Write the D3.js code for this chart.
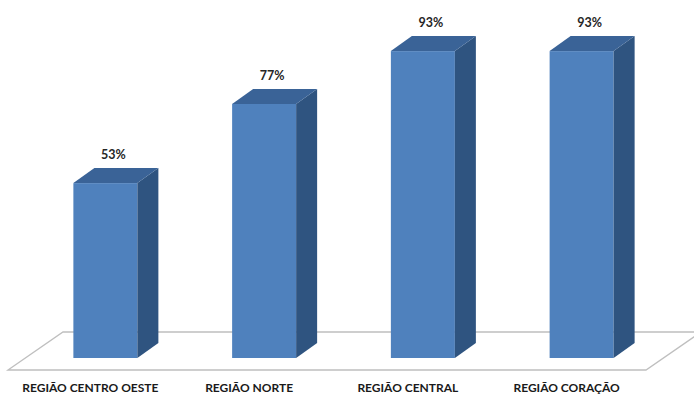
<!DOCTYPE html>
<html>
<head>
<meta charset="utf-8">
<script src="https://cdn.jsdelivr.net/npm/d3@7"></script>
<style>
  html, body { margin: 0; padding: 0; background: #fff; }
  svg { display: block; font-family: Lato, "Open Sans", sans-serif; }
</style>
</head>
<body>
<svg id="chart" width="694" height="394"></svg>
<script>
'use strict';

// data
var categories = ['REGIÃO CENTRO OESTE', 'REGIÃO NORTE', 'REGIÃO CENTRAL', 'REGIÃO CORAÇÃO'];
var values = [53, 77, 93, 93];
var valueLabels = ['53%', '77%', '93%', '93%'];

var svg = d3.select('#chart');

// geometry
var barW = 64, depthX = 21, depthY = 15;
var floorBack = 332, floorFront = 370;

var x = d3.scalePoint().domain(categories).range([26, 661]).padding(0.5);
var y = d3.scaleLinear().domain([0, 100]).range([358, 28]);

// floor
var floorPts = [[8, floorFront], [63, floorBack], [701, floorBack], [646, floorFront]];
svg.append('path')
  .attr('d', d3.line()(floorPts) + 'Z')
  .attr('fill', '#fff')
  .attr('stroke', '#bfbfbf')
  .attr('stroke-width', 1.3);

var bars = svg.selectAll('g.bar')
  .data(values)
  .enter().append('g')
  .attr('class', 'bar');

// front face
bars.append('rect')
  .attr('x', function(d, i) { return x(categories[i]) - barW / 2; })
  .attr('y', function(d) { return y(d); })
  .attr('width', barW)
  .attr('height', function(d) { return y(0) - y(d); })
  .attr('fill', '#4f81bd');

// side face
bars.append('path')
  .attr('d', function(d, i) {
    var r = x(categories[i]) + barW / 2;
    return d3.line()([[r, y(d)], [r + depthX, y(d) - depthY], [r + depthX, y(0) - depthY], [r, y(0)]]) + 'Z';
  })
  .attr('fill', '#2f5480');

// top face
bars.append('path')
  .attr('d', function(d, i) {
    var l = x(categories[i]) - barW / 2, r = l + barW;
    return d3.line()([[l, y(d)], [l + depthX, y(d) - depthY], [r + depthX, y(d) - depthY], [r, y(d)]]) + 'Z';
  })
  .attr('fill', '#3a6397');

// value labels
bars.append('text')
  .attr('x', function(d, i) { return x(categories[i]) + 8; })
  .attr('y', function(d) { return y(d) - depthY - 9; })
  .attr('text-anchor', 'middle')
  .attr('font-size', 12.5)
  .attr('font-weight', 'bold')
  .attr('fill', '#262626')
  .text(function(d, i) { return valueLabels[i]; });

// category labels
svg.selectAll('text.cat')
  .data(categories)
  .enter().append('text')
  .attr('class', 'cat')
  .attr('x', function(d) { return x(d) - 15; })
  .attr('y', 392)
  .attr('text-anchor', 'middle')
  .attr('font-size', 12)
  .attr('font-weight', 'bold')
  .attr('fill', '#1a1a1a')
  .text(function(d) { return d; });
</script>
</body>
</html>
